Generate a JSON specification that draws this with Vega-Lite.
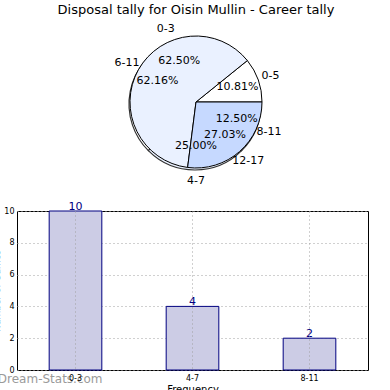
{
  "$schema": "https://vega.github.io/schema/vega-lite/v6.json",
  "padding": {"left": -8, "top": 4, "right": 0, "bottom": 0},
  "background": "white",
  "config": {"font": "DejaVu Sans", "view": {"stroke": null}},
  "datasets": {
    "pie": [
      {"pie": "A", "range": "0-3", "value": 10, "pct": "62.50%", "order": 1},
      {"pie": "A", "range": "4-7", "value": 4, "pct": "25.00%", "order": 2},
      {"pie": "A", "range": "8-11", "value": 2, "pct": "12.50%", "order": 3},
      {"pie": "B", "range": "0-5", "value": 4, "pct": "10.81%", "order": 1},
      {"pie": "B", "range": "6-11", "value": 23, "pct": "62.16%", "order": 2},
      {"pie": "B", "range": "12-17", "value": 10, "pct": "27.03%", "order": 3}
    ],
    "bars": [
      {"range": "0-3", "count": 10},
      {"range": "4-7", "count": 4},
      {"range": "8-11", "count": 2}
    ]
  },
  "spacing": 14,
  "vconcat": [
    {
      "width": 358,
      "height": 158,
      "title": {"text": "Disposal tally for Oisin Mullin - Career tally", "fontSize": 13, "fontWeight": "normal", "color": "black", "offset": 6},
      "data": {"name": "pie"},
      "resolve": {"scale": {"theta": "independent"}},
      "encoding": {
        "theta": {"field": "value", "type": "quantitative", "stack": true, "scale": {"range": [1.5708, -4.7124]}},
        "order": {"field": "order", "type": "quantitative"}
      },
      "layer": [
        {
          "transform": [{"filter": "datum.pie == 'A'"}],
          "mark": {"type": "arc", "outerRadius": 66, "stroke": "#333333", "strokeWidth": 1.2, "xOffset": -1, "yOffset": 2},
          "encoding": {
            "color": {"field": "range", "type": "nominal", "legend": null,
              "scale": {"domain": ["0-3", "4-7", "8-11", "0-5", "6-11", "12-17"], "range": ["#ffffff", "#eaf1ff", "#c6d9ff", "#ffffff", "#eaf1ff", "#c6d9ff"]}}
          }
        },
        {
          "transform": [{"filter": "datum.pie == 'B'"}],
          "mark": {"type": "arc", "outerRadius": 66, "stroke": "black", "strokeWidth": 1},
          "encoding": {
            "color": {"field": "range", "type": "nominal", "legend": null,
              "scale": {"domain": ["0-3", "4-7", "8-11", "0-5", "6-11", "12-17"], "range": ["#ffffff", "#eaf1ff", "#c6d9ff", "#ffffff", "#eaf1ff", "#c6d9ff"]}}
          }
        },
        {
          "transform": [{"filter": "datum.pie == 'A'"}],
          "mark": {"type": "text", "radius": 44, "fontSize": 11, "color": "black"},
          "encoding": {"text": {"field": "pct"}}
        },
        {
          "transform": [{"filter": "datum.pie == 'A'"}],
          "mark": {"type": "text", "radius": 79, "fontSize": 11, "color": "black"},
          "encoding": {"text": {"field": "range"}}
        },
        {
          "transform": [{"filter": "datum.pie == 'B'"}],
          "mark": {"type": "text", "radius": 44, "fontSize": 11, "color": "black"},
          "encoding": {"text": {"field": "pct"}}
        },
        {
          "transform": [{"filter": "datum.pie == 'B'"}],
          "mark": {"type": "text", "radius": 79, "fontSize": 11, "color": "black"},
          "encoding": {"text": {"field": "range"}}
        }
      ]
    },
    {
      "width": 351,
      "height": 159,
      "data": {"name": "bars"},
      "view": {"stroke": "black", "strokeWidth": 1},
      "title": {"text": "Dream-Stats.com", "orient": "bottom", "anchor": "start", "offset": -20, "dx": 5, "fontSize": 12, "fontWeight": "normal", "color": "#9a9a9a"},
      "encoding": {
        "x": {"field": "range", "type": "nominal", "sort": null,
          "scale": {"paddingInner": 0, "paddingOuter": 0},
          "axis": {"title": "Frequency", "titleFontSize": 10, "titleFontWeight": "normal", "titleColor": "black", "titlePadding": 2,
            "labelFontSize": 8, "labelAngle": 0, "labelColor": "black", "labelPadding": 4,
            "ticks": false, "domain": false, "grid": true, "gridDash": [1, 3], "gridColor": "#a0a0a0", "bandPosition": 0.5, "zindex": 1}},
        "y": {"field": "count", "type": "quantitative", "scale": {"domain": [0, 10]},
          "axis": {"title": "Number of Games", "titleFontSize": 9, "titleFontWeight": "normal", "titleColor": "black", "titlePadding": 2,
            "values": [0, 2, 4, 6, 8, 10], "labelOverlap": false, "labelFontSize": 8, "labelColor": "black", "labelPadding": 3,
            "ticks": false, "domain": false, "grid": true, "gridDash": [1, 3], "gridColor": "#a0a0a0"}}
      },
      "layer": [
        {
          "mark": {"type": "bar", "width": {"band": 0.45}, "fill": "#ccccE5", "stroke": "#000080", "strokeWidth": 1}
        },
        {
          "mark": {"type": "text", "color": "#000080", "fontSize": 11, "baseline": "bottom", "dy": 1},
          "encoding": {"text": {"field": "count"}}
        }
      ]
    }
  ]
}
